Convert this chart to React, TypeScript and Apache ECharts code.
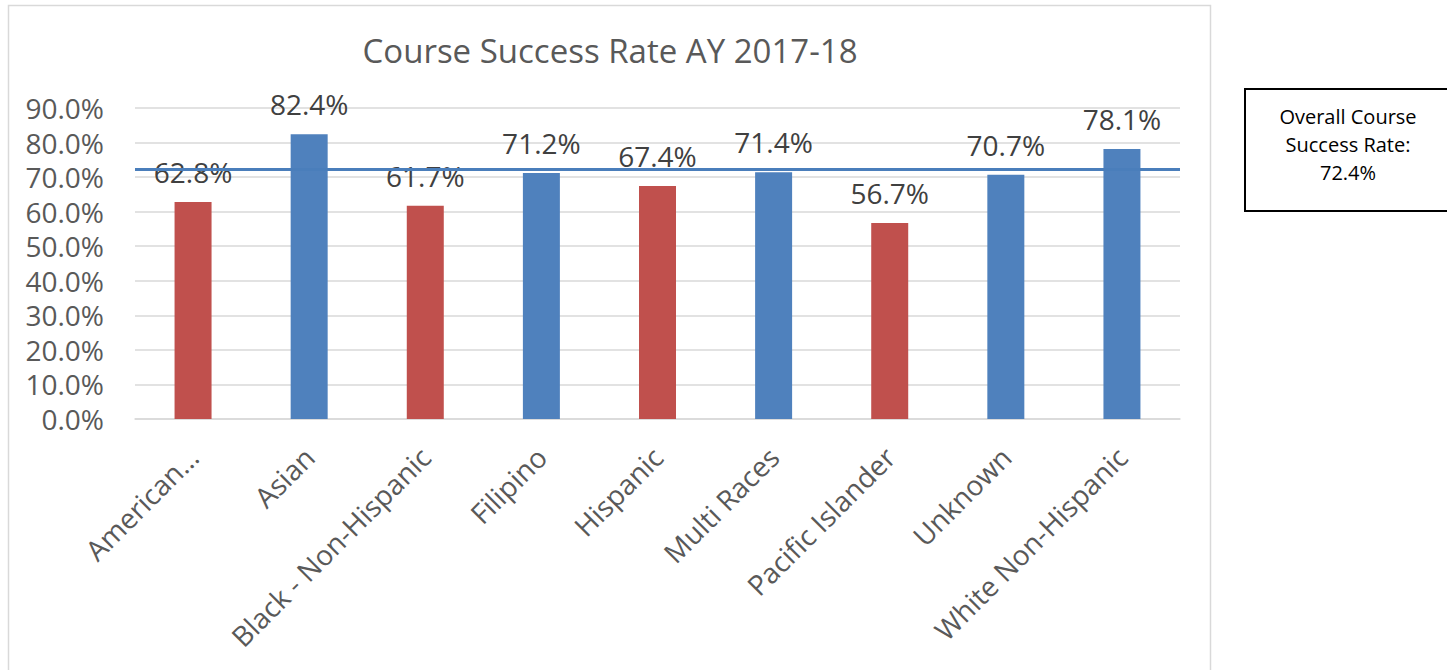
import React, { useEffect, useRef } from "react";
import * as echarts from "echarts";

const categories = [
  "American…",
  "Asian",
  "Black - Non-Hispanic",
  "Filipino",
  "Hispanic",
  "Multi Races",
  "Pacific Islander",
  "Unknown",
  "White Non-Hispanic",
];
const successRates = [62.8, 82.4, 61.7, 71.2, 67.4, 71.4, 56.7, 70.7, 78.1];
const belowOverall = [true, false, true, false, true, false, true, false, false];
const overallRate = 72.4;
const yTicks = { min: 0, max: 90, interval: 10 };

const RED = "#C0504D";
const BLUE = "#4F81BD";
const FONT = "'Open Sans', sans-serif";

export default function App() {
  const ref = useRef<HTMLDivElement>(null);
  useEffect(() => {
    document.body.style.margin = "0";
    const chart = echarts.init(ref.current!, undefined, { renderer: "svg" });
    chart.setOption({
      animation: false,
      backgroundColor: "#ffffff",
      textStyle: { fontFamily: FONT },
      title: {
        text: "Course Success Rate AY 2017-18",
        left: 605,
        textAlign: "center",
        top: 29,
        textStyle: { fontFamily: FONT, fontSize: 33, fontWeight: "normal", color: "#595959" },
      },
      grid: { left: 135, right: 267, top: 108, bottom: 251, containLabel: false },
      xAxis: {
        type: "category",
        data: categories,
        axisLine: { show: true, lineStyle: { color: "#d9d9d9", width: 1.5 } },
        axisTick: { show: false },
        axisLabel: {
          interval: 0,
          rotate: 45,
          margin: 33,
          fontFamily: FONT,
          fontSize: 28,
          color: "#595959",
        },
      },
      yAxis: {
        type: "value",
        min: yTicks.min,
        max: yTicks.max,
        interval: yTicks.interval,
        axisLine: { show: false },
        axisTick: { show: false },
        splitLine: { lineStyle: { color: "#d9d9d9", width: 1.5 } },
        axisLabel: {
          margin: 31,
          fontFamily: FONT,
          fontSize: 28,
          color: "#595959",
          formatter: (v: number) => v.toFixed(1) + "%",
        },
      },
      series: [
        {
          type: "bar",
          barWidth: 37,
          data: successRates.map((v, i) => ({
            value: v,
            itemStyle: { color: belowOverall[i] ? RED : BLUE },
          })),
          label: {
            show: true,
            position: "top",
            distance: 16,
            fontFamily: FONT,
            fontSize: 28,
            color: "#404040",
            formatter: (p: any) => Number(p.value).toFixed(1) + "%",
          },
          markLine: {
            silent: true,
            symbol: ["none", "none"],
            label: { show: false },
            lineStyle: { color: "#4A7EBB", width: 3, type: "solid" },
            data: [{ yAxis: overallRate }],
          },
        },
      ],
      graphic: [
        {
          type: "rect",
          shape: { x: 8.5, y: 5.5, width: 1202, height: 700 },
          style: { fill: "none", stroke: "#d9d9d9", lineWidth: 1.5 },
          silent: true,
        },
        {
          type: "rect",
          shape: { x: 1245, y: 89, width: 220, height: 122 },
          style: { fill: "#ffffff", stroke: "#000000", lineWidth: 2 },
          silent: true,
        },
        {
          type: "text",
          x: 1348,
          y: 102,
          style: {
            text: "Overall Course\nSuccess Rate:\n" + overallRate.toFixed(1) + "%",
            fontFamily: FONT,
            fontSize: 20,
            lineHeight: 28,
            fill: "#000000",
            align: "center",
            verticalAlign: "top",
          },
          silent: true,
        },
      ],
    });
    return () => chart.dispose();
  }, []);
  return (
    <div
      ref={ref}
      style={{ position: "absolute", left: 0, top: 0, width: 1447, height: 670 }}
    />
  );
}
